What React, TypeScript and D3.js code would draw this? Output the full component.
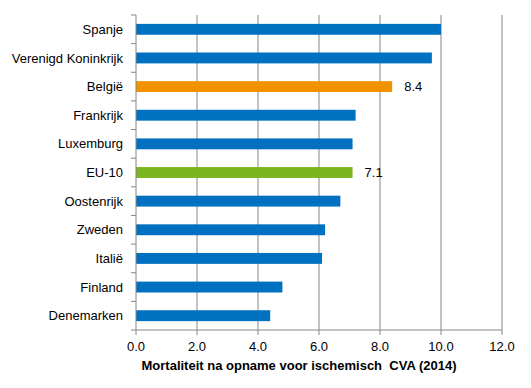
import React from 'react';
import * as d3 from 'd3';

const WIDTH = 531;
const HEIGHT = 388;
const MARGIN = { top: 15, right: 29, bottom: 58, left: 136 };

const countries = [
  'Spanje',
  'Verenigd Koninkrijk',
  'België',
  'Frankrijk',
  'Luxemburg',
  'EU-10',
  'Oostenrijk',
  'Zweden',
  'Italië',
  'Finland',
  'Denemarken',
];
const mortality = [10.0, 9.7, 8.4, 7.2, 7.1, 7.1, 6.7, 6.2, 6.1, 4.8, 4.4];
const labelled = ['België', 'EU-10'];
const xTicks = [0, 2, 4, 6, 8, 10, 12];
const axisTitle = 'Mortaliteit na opname voor ischemisch\u00a0 CVA (2014)';

const BLUE = '#0070c0';
const ORANGE = '#f39200';
const GREEN = '#7ab51d';
const GRID = '#868686';
const FONT = 'Arial, "Liberation Sans", sans-serif';
const FS = 13;

const barColor = (name: string) =>
  name === 'België' ? ORANGE : name === 'EU-10' ? GREEN : BLUE;

const App = () => {
  const boundsWidth = WIDTH - MARGIN.left - MARGIN.right;
  const boundsHeight = HEIGHT - MARGIN.top - MARGIN.bottom;

  const xScale = d3.scaleLinear().domain([0, 12]).range([0, boundsWidth]);
  const yScale = d3
    .scaleBand()
    .domain(countries)
    .range([0, boundsHeight])
    .paddingInner(0.62)
    .paddingOuter(0.31);
  const bandStep = boundsHeight / countries.length;

  return (
    <svg
      width={WIDTH}
      height={HEIGHT}
      style={{ position: 'absolute', left: 0, top: 0, background: '#fff' }}
    >
      <g transform={`translate(${MARGIN.left},${MARGIN.top})`}>
        {/* vertical gridlines */}
        {xTicks.slice(1).map((t) => (
          <line
            key={'g' + t}
            x1={xScale(t)}
            x2={xScale(t)}
            y1={0}
            y2={boundsHeight}
            stroke={GRID}
            strokeWidth={1}
          />
        ))}

        {/* bars */}
        {countries.map((c, i) => (
          <rect
            key={c}
            x={0}
            y={yScale(c)}
            width={xScale(mortality[i])}
            height={yScale.bandwidth()}
            fill={barColor(c)}
          />
        ))}

        {/* value labels */}
        {countries.map((c, i) =>
          labelled.includes(c) ? (
            <text
              key={'v' + c}
              x={xScale(mortality[i]) + 12}
              y={(yScale(c) ?? 0) + yScale.bandwidth() / 2}
              dy="0.35em"
              fontSize={FS}
              fontFamily={FONT}
              fill="#000"
            >
              {mortality[i].toFixed(1)}
            </text>
          ) : null
        )}

        {/* left axis */}
        <line x1={0} x2={0} y1={0} y2={boundsHeight} stroke={GRID} />
        {d3.range(countries.length + 1).map((i) => (
          <line
            key={'yt' + i}
            x1={-5}
            x2={0}
            y1={i * bandStep}
            y2={i * bandStep}
            stroke={GRID}
          />
        ))}
        {countries.map((c) => (
          <text
            key={'yl' + c}
            x={-13}
            y={(yScale(c) ?? 0) + yScale.bandwidth() / 2}
            dy="0.35em"
            textAnchor="end"
            fontSize={FS}
            fontFamily={FONT}
            fill="#000"
          >
            {c}
          </text>
        ))}

        {/* bottom axis */}
        <line x1={0} x2={boundsWidth} y1={boundsHeight} y2={boundsHeight} stroke={GRID} />
        {xTicks.map((t) => (
          <g key={'xt' + t} transform={`translate(${xScale(t)},${boundsHeight})`}>
            <line y1={0} y2={5} stroke={GRID} />
            <text
              y={16}
              dy="0.35em"
              textAnchor="middle"
              fontSize={FS}
              fontFamily={FONT}
              fill="#000"
            >
              {t.toFixed(1)}
            </text>
          </g>
        ))}
        <text
          x={boundsWidth / 2 - 20}
          y={boundsHeight + 35}
          dy="0.35em"
          textAnchor="middle"
          fontSize={FS}
          fontWeight="bold"
          fontFamily={FONT}
          fill="#000"
        >
          {axisTitle}
        </text>
      </g>
    </svg>
  );
};

export default App;
